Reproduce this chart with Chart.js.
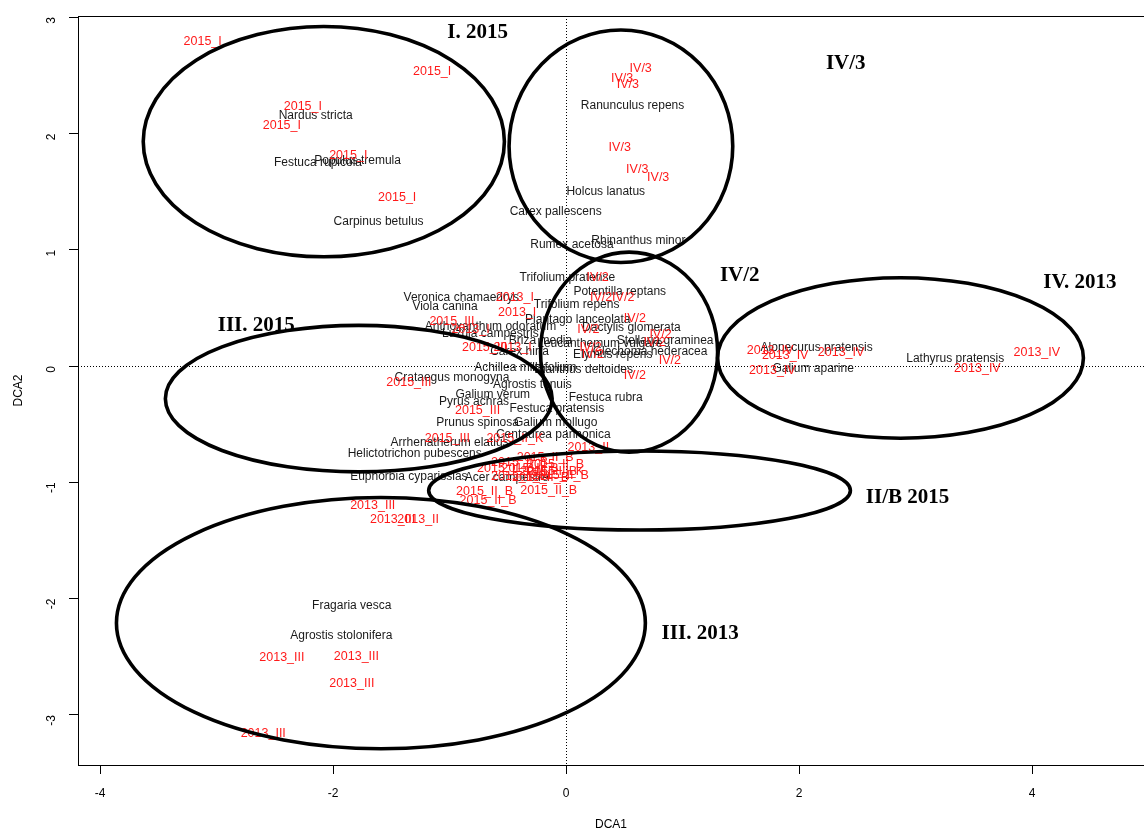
<!DOCTYPE html>
<html>
<head>
<meta charset="utf-8">
<script src="https://cdn.jsdelivr.net/npm/chart.js@4.4.0/dist/chart.umd.min.js"></script>
<style>
    body { margin: 0; background: #fff; }
</style>
</head>
<body>
<canvas id="dca-chart" width="1144" height="832"></canvas>
<script>
// species scores (black labels)
var speciesNames = ['Nardus stricta', 'Populus tremula', 'Festuca rupicola', 'Carpinus betulus',
    'Ranunculus repens', 'Holcus lanatus', 'Carex pallescens', 'Rumex acetosa', 'Rhinanthus minor',
    'Trifolium pratense', 'Potentilla reptans', 'Trifolium repens', 'Veronica chamaedrys', 'Viola canina',
    'Plantago lanceolata', 'Anthoxanthum odoratum', 'Dactylis glomerata', 'Luzula campestris', 'Briza media',
    'Stellaria graminea', 'Leucanthemum vulgare', 'Carex hirta', 'Elymus repens', 'Glechoma hederacea',
    'Achillea millefolium', 'Dianthus deltoides', 'Crataegus monogyna', 'Agrostis tenuis', 'Galium verum',
    'Festuca rubra', 'Pyrus achras', 'Festuca pratensis', 'Prunus spinosa', 'Galium mollugo',
    'Centaurea pannonica', 'Arrhenatherum elatius', 'Helictotrichon pubescens', 'Euphorbia cyparissias',
    'Acer campestre', 'Alopecurus pratensis', 'Lathyrus pratensis', 'Galium aparine', 'Fragaria vesca',
    'Agrostis stolonifera'];
var speciesX = [-2.15, -1.79, -2.13, -1.61, 0.57, 0.34, -0.09, 0.05, 0.62,
    0.01, 0.46, 0.09, -0.90, -1.04, 0.10, -0.65, 0.56, -0.65, -0.22,
    0.85, 0.29, -0.40, 0.40, 0.72, -0.35, 0.15, -0.98, -0.29, -0.63,
    0.34, -0.79, -0.08, -0.76, -0.09, -0.11, -1.00, -1.30, -1.35,
    -0.51, 2.15, 3.34, 2.12, -1.84, -1.93];
var speciesY = [2.15, 1.77, 1.75, 1.24, 2.24, 1.50, 1.33, 1.04, 1.08,
    0.76, 0.64, 0.53, 0.59, 0.51, 0.40, 0.34, 0.33, 0.28, 0.22,
    0.22, 0.19, 0.12, 0.10, 0.12, -0.01, -0.03, -0.10, -0.16, -0.25,
    -0.27, -0.31, -0.37, -0.49, -0.49, -0.59, -0.66, -0.75, -0.95,
    -0.96, 0.16, 0.06, -0.02, -2.06, -2.32];

// site scores (red labels)
var siteNames = ['2015_I', '2015_I', '2015_I', '2015_I', '2015_I', '2015_I',
    'IV/3', 'IV/3', 'IV/3', 'IV/3', 'IV/3', 'IV/3',
    'IV/2', 'IV/2', 'IV/2', 'IV/2', 'IV/2', 'IV/2', 'IV/2', 'IV/2', 'IV/2', 'IV/2', 'IV/2',
    '2013_IV', '2013_IV', '2013_IV', '2013_IV', '2013_IV', '2013_IV',
    '2013_I', '2013_I', '2013_I', '2013_I',
    '2015_III', '2015_III', '2015_III', '2015_III', '2015_III',
    '2015_II_B', '2015_II_B', '2015_II_B', '2015_II_B', '2015_II_B', '2015_II_B', '2015_II_B',
    '2015_II_B', '2015_II_B', '2015_II_B', '2015_II_B', '2015_II_B',
    '2015_II_K', '2015_II_K',
    '2013_II', '2013_II',
    '2013_III', '2013_III', '2013_III', '2013_III', '2013_III', '2013_III'];
var siteX = [-3.12, -1.15, -2.26, -2.44, -1.87, -1.45,
    0.64, 0.48, 0.53, 0.46, 0.61, 0.79,
    0.27, 0.30, 0.49, 0.59, 0.81, 0.76, 0.23, 0.89, 0.59, 0.19, 0.21,
    1.75, 1.88, 2.36, 1.77, 4.04, 3.53,
    -0.44, -0.42, -0.82, -0.46,
    -0.98, -0.70, -1.35, -0.76, -1.02,
    -0.70, -0.15, -0.67, -0.18, -0.40, -0.52, -0.31, -0.09, -0.15, -0.40, -0.22, -0.05,
    -0.44, -0.09,
    0.19, -1.27,
    -1.66, -1.49, -2.44, -1.80, -1.84, -2.60];
var siteY = [2.79, 2.53, 2.23, 2.07, 1.81, 1.45,
    2.56, 2.47, 2.42, 1.88, 1.69, 1.62,
    0.76, 0.59, 0.59, 0.41, 0.27, 0.20, 0.10, 0.05, -0.08, 0.31, 0.16,
    0.13, 0.09, 0.12, -0.04, 0.12, -0.02,
    0.59, 0.46, 0.31, 0.16,
    0.38, 0.16, -0.14, -0.38, -0.62,
    -1.08, -1.07, -1.16, -0.79, -0.83, -0.88, -0.88, -0.85, -0.91, -0.95, -0.96, -0.94,
    -0.62, -0.91,
    -0.70, -1.32,
    -1.20, -1.32, -2.51, -2.50, -2.73, -3.16];

// group ellipses and their titles (DCA units)
var groupNames = ['I. 2015', 'IV/3', 'IV/2', 'IV. 2013', 'III. 2015', 'II/B 2015', 'III. 2013'];
var groupCX = [-2.08, 0.47, 0.54, 2.87, -1.78, 0.63, -1.59];
var groupCY = [1.93, 1.89, 0.12, 0.07, -0.28, -1.07, -2.21];
var groupRX = [1.55, 0.96, 0.76, 1.57, 1.66, 1.81, 2.27];
var groupRY = [0.99, 1.00, 0.86, 0.69, 0.63, 0.34, 1.08];
var groupLabelX = [-0.76, 2.40, 1.49, 4.41, -2.66, 2.93, 1.15];
var groupLabelY = [2.87, 2.60, 0.78, 0.72, 0.35, -1.13, -2.30];

var xTicks = [-4, -2, 0, 2, 4];
var yTicks = [-3, -2, -1, 0, 1, 2, 3];

function toPoints(xs, ys) {
    var pts = [];
    for (var i = 0; i < xs.length; i++) {
        pts.push({x: xs[i], y: ys[i]});
    }
    return pts;
}

var ordiPlugin = {
    id: 'ordi',
    beforeDatasetsDraw: function(chart) {
        var ctx = chart.ctx;
        var xs = chart.scales.x, ys = chart.scales.y;
        var area = chart.chartArea;
        ctx.save();
        // dotted zero lines
        ctx.strokeStyle = '#000';
        ctx.lineWidth = 1;
        ctx.setLineDash([1, 2]);
        ctx.beginPath();
        var x0 = Math.round(xs.getPixelForValue(0)) + 0.5;
        var y0 = Math.round(ys.getPixelForValue(0)) + 0.5;
        ctx.moveTo(x0, area.top);
        ctx.lineTo(x0, area.bottom);
        ctx.moveTo(area.left, y0);
        ctx.lineTo(area.right, y0);
        ctx.stroke();
        ctx.setLineDash([]);
        // frame
        ctx.strokeRect(area.left + 0.5, area.top + 0.5, area.right - area.left + 10, area.bottom - area.top);
        ctx.restore();
    },
    afterDatasetsDraw: function(chart) {
        var ctx = chart.ctx;
        var xs = chart.scales.x, ys = chart.scales.y;
        ctx.save();
        ctx.textAlign = 'center';
        ctx.textBaseline = 'middle';
        chart.data.datasets.forEach(function(ds, di) {
            var meta = chart.getDatasetMeta(di);
            ctx.fillStyle = ds.labelColor;
            ctx.font = ds.labelFont;
            meta.data.forEach(function(pt, i) {
                ctx.fillText(ds.labels[i], pt.x, pt.y);
            });
        });
        // ellipses
        ctx.strokeStyle = '#000';
        ctx.lineWidth = 3.6;
        for (var i = 0; i < groupNames.length; i++) {
            var cx = xs.getPixelForValue(groupCX[i]);
            var cy = ys.getPixelForValue(groupCY[i]);
            var rx = Math.abs(xs.getPixelForValue(groupCX[i] + groupRX[i]) - cx);
            var ry = Math.abs(ys.getPixelForValue(groupCY[i] + groupRY[i]) - cy);
            ctx.beginPath();
            ctx.ellipse(cx, cy, rx, ry, 0, 0, Math.PI * 2);
            ctx.stroke();
        }
        // group titles
        ctx.fillStyle = '#000';
        ctx.font = 'bold 21px "Liberation Serif"';
        for (var j = 0; j < groupNames.length; j++) {
            ctx.fillText(groupNames[j], xs.getPixelForValue(groupLabelX[j]), ys.getPixelForValue(groupLabelY[j]));
        }
        ctx.restore();
    }
};

var ctx = document.getElementById('dca-chart');
var myChart = new Chart(ctx, {
    type: 'scatter',
    data: {
        datasets: [{
            label: 'Species',
            data: toPoints(speciesX, speciesY),
            labels: speciesNames,
            labelColor: '#1a1a1a',
            labelFont: '12px "Liberation Sans"',
            pointRadius: 0
        }, {
            label: 'Sites',
            data: toPoints(siteX, siteY),
            labels: siteNames,
            labelColor: '#ff1a1a',
            labelFont: '12.5px "Liberation Sans"',
            pointRadius: 0
        }]
    },
    options: {
        responsive: false,
        animation: false,
        layout: { padding: { top: 16, right: 0, left: 0, bottom: 0 } },
        plugins: {
            legend: { display: false },
            tooltip: { enabled: false }
        },
        scales: {
            x: {
                type: 'linear',
                min: -4.19,
                max: 4.96,
                afterFit: function(scale) {
                    scale.height = 67;
                    scale.paddingLeft = 0;
                    scale.paddingRight = 0;
                },
                afterBuildTicks: function(scale) {
                    scale.ticks = xTicks.map(function(v) { return {value: v}; });
                },
                grid: { drawOnChartArea: false, drawTicks: true, tickLength: 9, color: '#000' },
                border: { display: true, color: '#000', width: 1 },
                ticks: { color: '#000', font: { family: 'Liberation Sans', size: 12 }, padding: 12 },
                title: { display: true, text: 'DCA1', color: '#000', font: { family: 'Liberation Sans', size: 12 }, padding: { top: 19, bottom: 0 } }
            },
            y: {
                type: 'linear',
                min: -3.43,
                max: 3.01,
                afterFit: function(scale) {
                    scale.width = 78;
                    scale.paddingTop = 0;
                    scale.paddingBottom = 0;
                },
                afterBuildTicks: function(scale) {
                    scale.ticks = yTicks.map(function(v) { return {value: v}; });
                },
                grid: { drawOnChartArea: false, drawTicks: true, tickLength: 9, color: '#000' },
                border: { display: true, color: '#000', width: 1 },
                ticks: { color: '#000', font: { family: 'Liberation Sans', size: 12 }, padding: 17, minRotation: 90, maxRotation: 90 },
                title: { display: true, text: 'DCA2', color: '#000', font: { family: 'Liberation Sans', size: 12 }, padding: { top: 11, bottom: 0 } }
            }
        }
    },
    plugins: [ordiPlugin]
});
</script>
</body>
</html>
